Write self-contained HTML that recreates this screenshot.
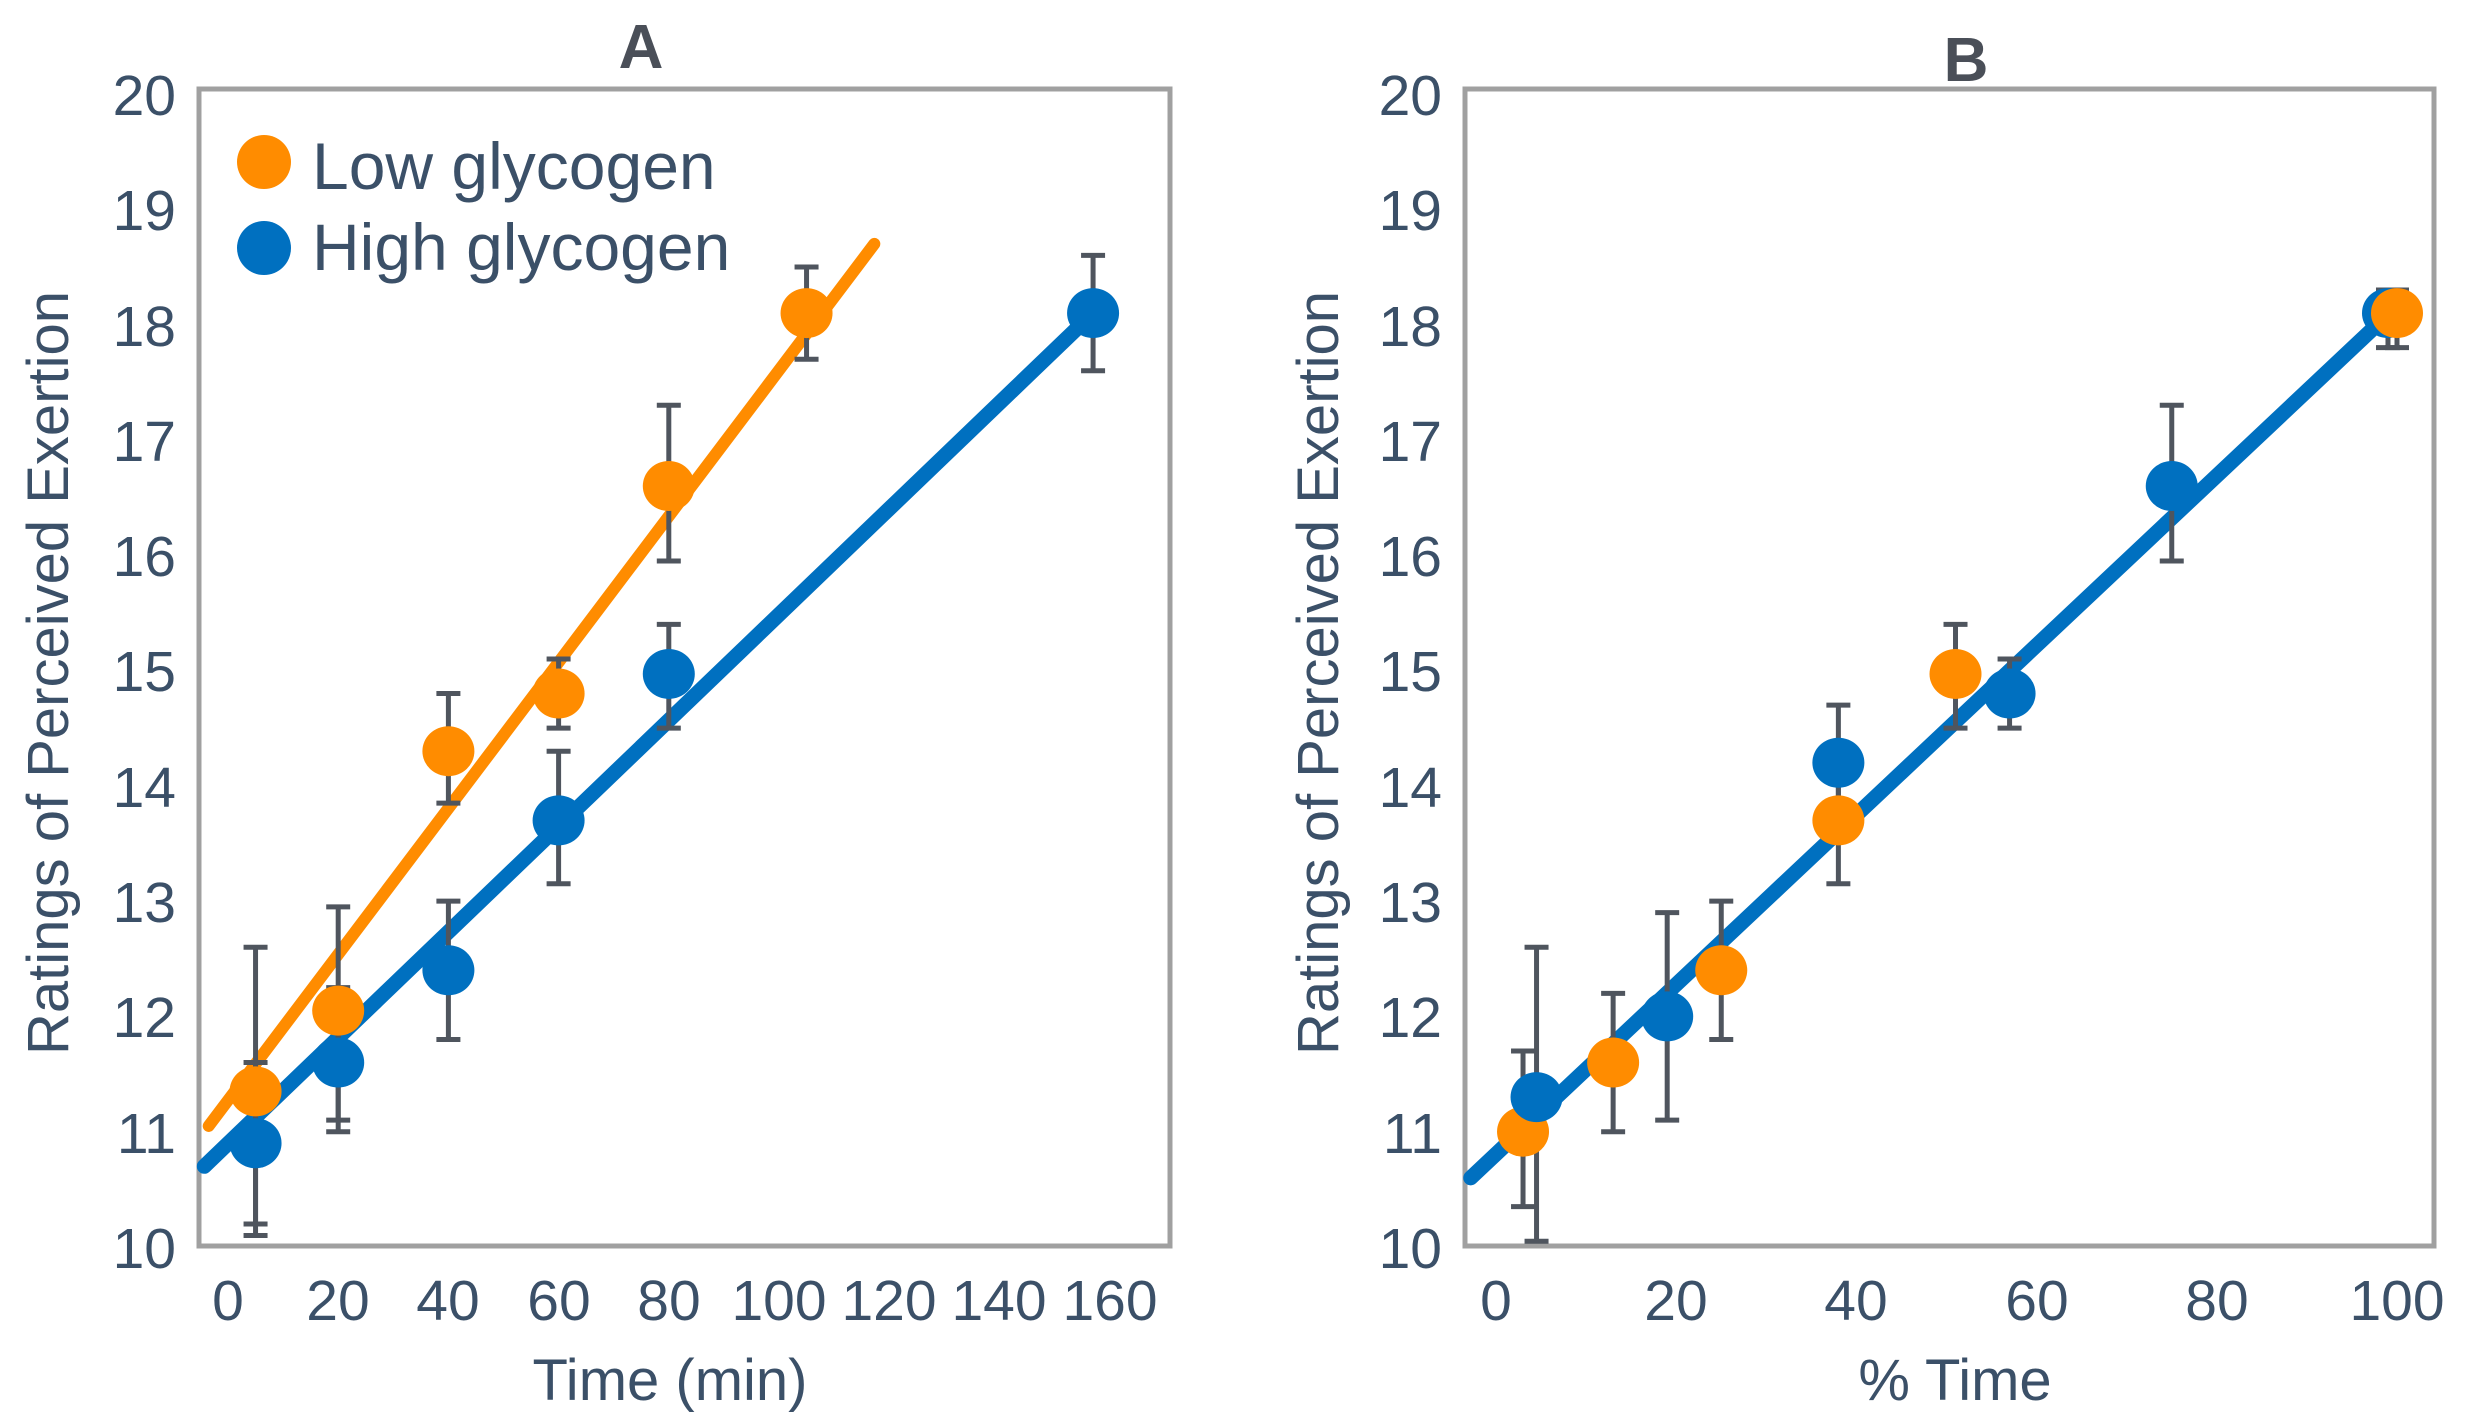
<!DOCTYPE html>
<html><head><meta charset="utf-8"><style>
html,body{margin:0;padding:0;background:#fff;}
svg{display:block;}
text{font-family:"Liberation Sans",Arial,sans-serif;fill:#3b5068;}
</style></head><body>
<svg id="s" width="2470" height="1420" viewBox="0 0 2470 1420" xmlns="http://www.w3.org/2000/svg">
<rect x="0" y="0" width="2470" height="1420" fill="#fff"/>
<rect x="199" y="89" width="971" height="1157" fill="none" stroke="#a0a0a0" stroke-width="5"/>
<rect x="1465" y="89" width="969" height="1157" fill="none" stroke="#a0a0a0" stroke-width="5"/>
<g id="data"></g>
<text x="641" y="68" font-size="62" font-weight="bold" text-anchor="middle" style="fill:#4a4f58">A</text>
<text x="1966" y="81" font-size="62" font-weight="bold" text-anchor="middle" style="fill:#4a4f58">B</text>
<g font-size="57" text-anchor="end">
<text x="176" y="115">20</text><text x="176" y="230">19</text><text x="176" y="346">18</text><text x="176" y="461">17</text><text x="176" y="576">16</text><text x="176" y="691">15</text><text x="176" y="807">14</text><text x="176" y="922">13</text><text x="176" y="1037">12</text><text x="176" y="1153">11</text><text x="176" y="1268">10</text>
<text x="1442" y="115">20</text><text x="1442" y="230">19</text><text x="1442" y="346">18</text><text x="1442" y="461">17</text><text x="1442" y="576">16</text><text x="1442" y="691">15</text><text x="1442" y="807">14</text><text x="1442" y="922">13</text><text x="1442" y="1037">12</text><text x="1442" y="1153">11</text><text x="1442" y="1268">10</text>
</g>
<g font-size="57" text-anchor="middle">
<text x="228" y="1320">0</text><text x="338" y="1320">20</text><text x="448" y="1320">40</text><text x="559" y="1320">60</text><text x="669" y="1320">80</text><text x="779" y="1320">100</text><text x="889" y="1320">120</text><text x="999" y="1320">140</text><text x="1110" y="1320">160</text>
<text x="1496" y="1320">0</text><text x="1676" y="1320">20</text><text x="1856" y="1320">40</text><text x="2037" y="1320">60</text><text x="2217" y="1320">80</text><text x="2397" y="1320">100</text>
<text x="670" y="1400" font-size="58">Time (min)</text>
<text x="1955" y="1400" font-size="58">% Time</text>
</g>
<text transform="translate(68,673) rotate(-90)" font-size="58" text-anchor="middle">Ratings of Perceived Exertion</text>
<text transform="translate(1338,673) rotate(-90)" font-size="58" text-anchor="middle">Ratings of Perceived Exertion</text>
<circle cx="264" cy="162" r="27" fill="#ff8c00"/>
<circle cx="264" cy="248" r="27" fill="#0070c0"/>
<text x="312" y="189" font-size="66">Low glycogen</text>
<text x="312" y="270" font-size="66">High glycogen</text>
</svg>
<script>
(function(){
var g=document.getElementById('data'),NS='http://www.w3.org/2000/svg';
function py(v){return 1247-(v-10)*115.3;}
function ax(t){return 228+5.51*t;}
function bx(p){return 1496+9.01*p;}
function el(n,a){var e=document.createElementNS(NS,n);for(var k in a)e.setAttribute(k,a[k]);g.appendChild(e);}
function line(x1,y1,x2,y2,c,w){el('line',{x1:x1,y1:y1,x2:x2,y2:y2,stroke:c,'stroke-width':w,'stroke-linecap':'round'});}
var O='#ff8c00',B='#0070c0',E='#4f555e';
var lines=[[ax(-3.5),py(11.05),ax(117.3),py(18.7),O,12],[ax(-4.3),py(10.7),ax(157),py(18.1),B,15],[bx(-2.8),py(10.6),bx(98.5),py(18.05),B,15]];
var A=[[5,11.35,10.1,12.6,O],[5,10.9,10.2,11.6,B],[20,12.05,11.1,12.95,O],[20,11.6,11.0,12.25,B],
[40,14.3,13.85,14.8,O],[40,12.4,11.8,13.0,B],[60,14.8,14.5,15.1,O],[60,13.7,13.15,14.3,B],
[80,16.6,15.95,17.3,O],[80,14.97,14.5,15.4,B],[105,18.1,17.7,18.5,O],[157,18.1,17.6,18.6,B]];
var Bp=[[3,11.0,10.35,11.7,O],[4.5,11.3,10.05,12.6,B],[13,11.6,11.0,12.2,O],[19,12.0,11.1,12.9,B],
[25,12.4,11.8,13.0,O],[38,14.2,13.75,14.7,B],[38,13.7,13.15,14.3,O],[51,14.97,14.5,15.4,O],
[57,14.8,14.5,15.1,B],[75,16.6,15.95,17.3,B],[99,18.1,17.8,18.3,B],[100,18.1,17.8,18.3,O]];
lines.forEach(function(l){line(l[0],l[1],l[2],l[3],l[4],l[5]);});
function eb(x,lo,hi){el('line',{x1:x,y1:py(lo),x2:x,y2:py(hi),stroke:E,'stroke-width':5});
el('line',{x1:x-12,y1:py(lo),x2:x+12,y2:py(lo),stroke:E,'stroke-width':5});
el('line',{x1:x-12,y1:py(hi),x2:x+12,y2:py(hi),stroke:E,'stroke-width':5});}
A.forEach(function(p){eb(ax(p[0]),p[2],p[3]);});
Bp.forEach(function(p){eb(bx(p[0]),p[2],p[3]);});
A.forEach(function(p){el('ellipse',{cx:ax(p[0]),cy:py(p[1]),rx:26,ry:25,fill:p[4]});});
Bp.forEach(function(p){el('ellipse',{cx:bx(p[0]),cy:py(p[1]),rx:26,ry:25,fill:p[4]});});
})();
</script>
</body></html>
